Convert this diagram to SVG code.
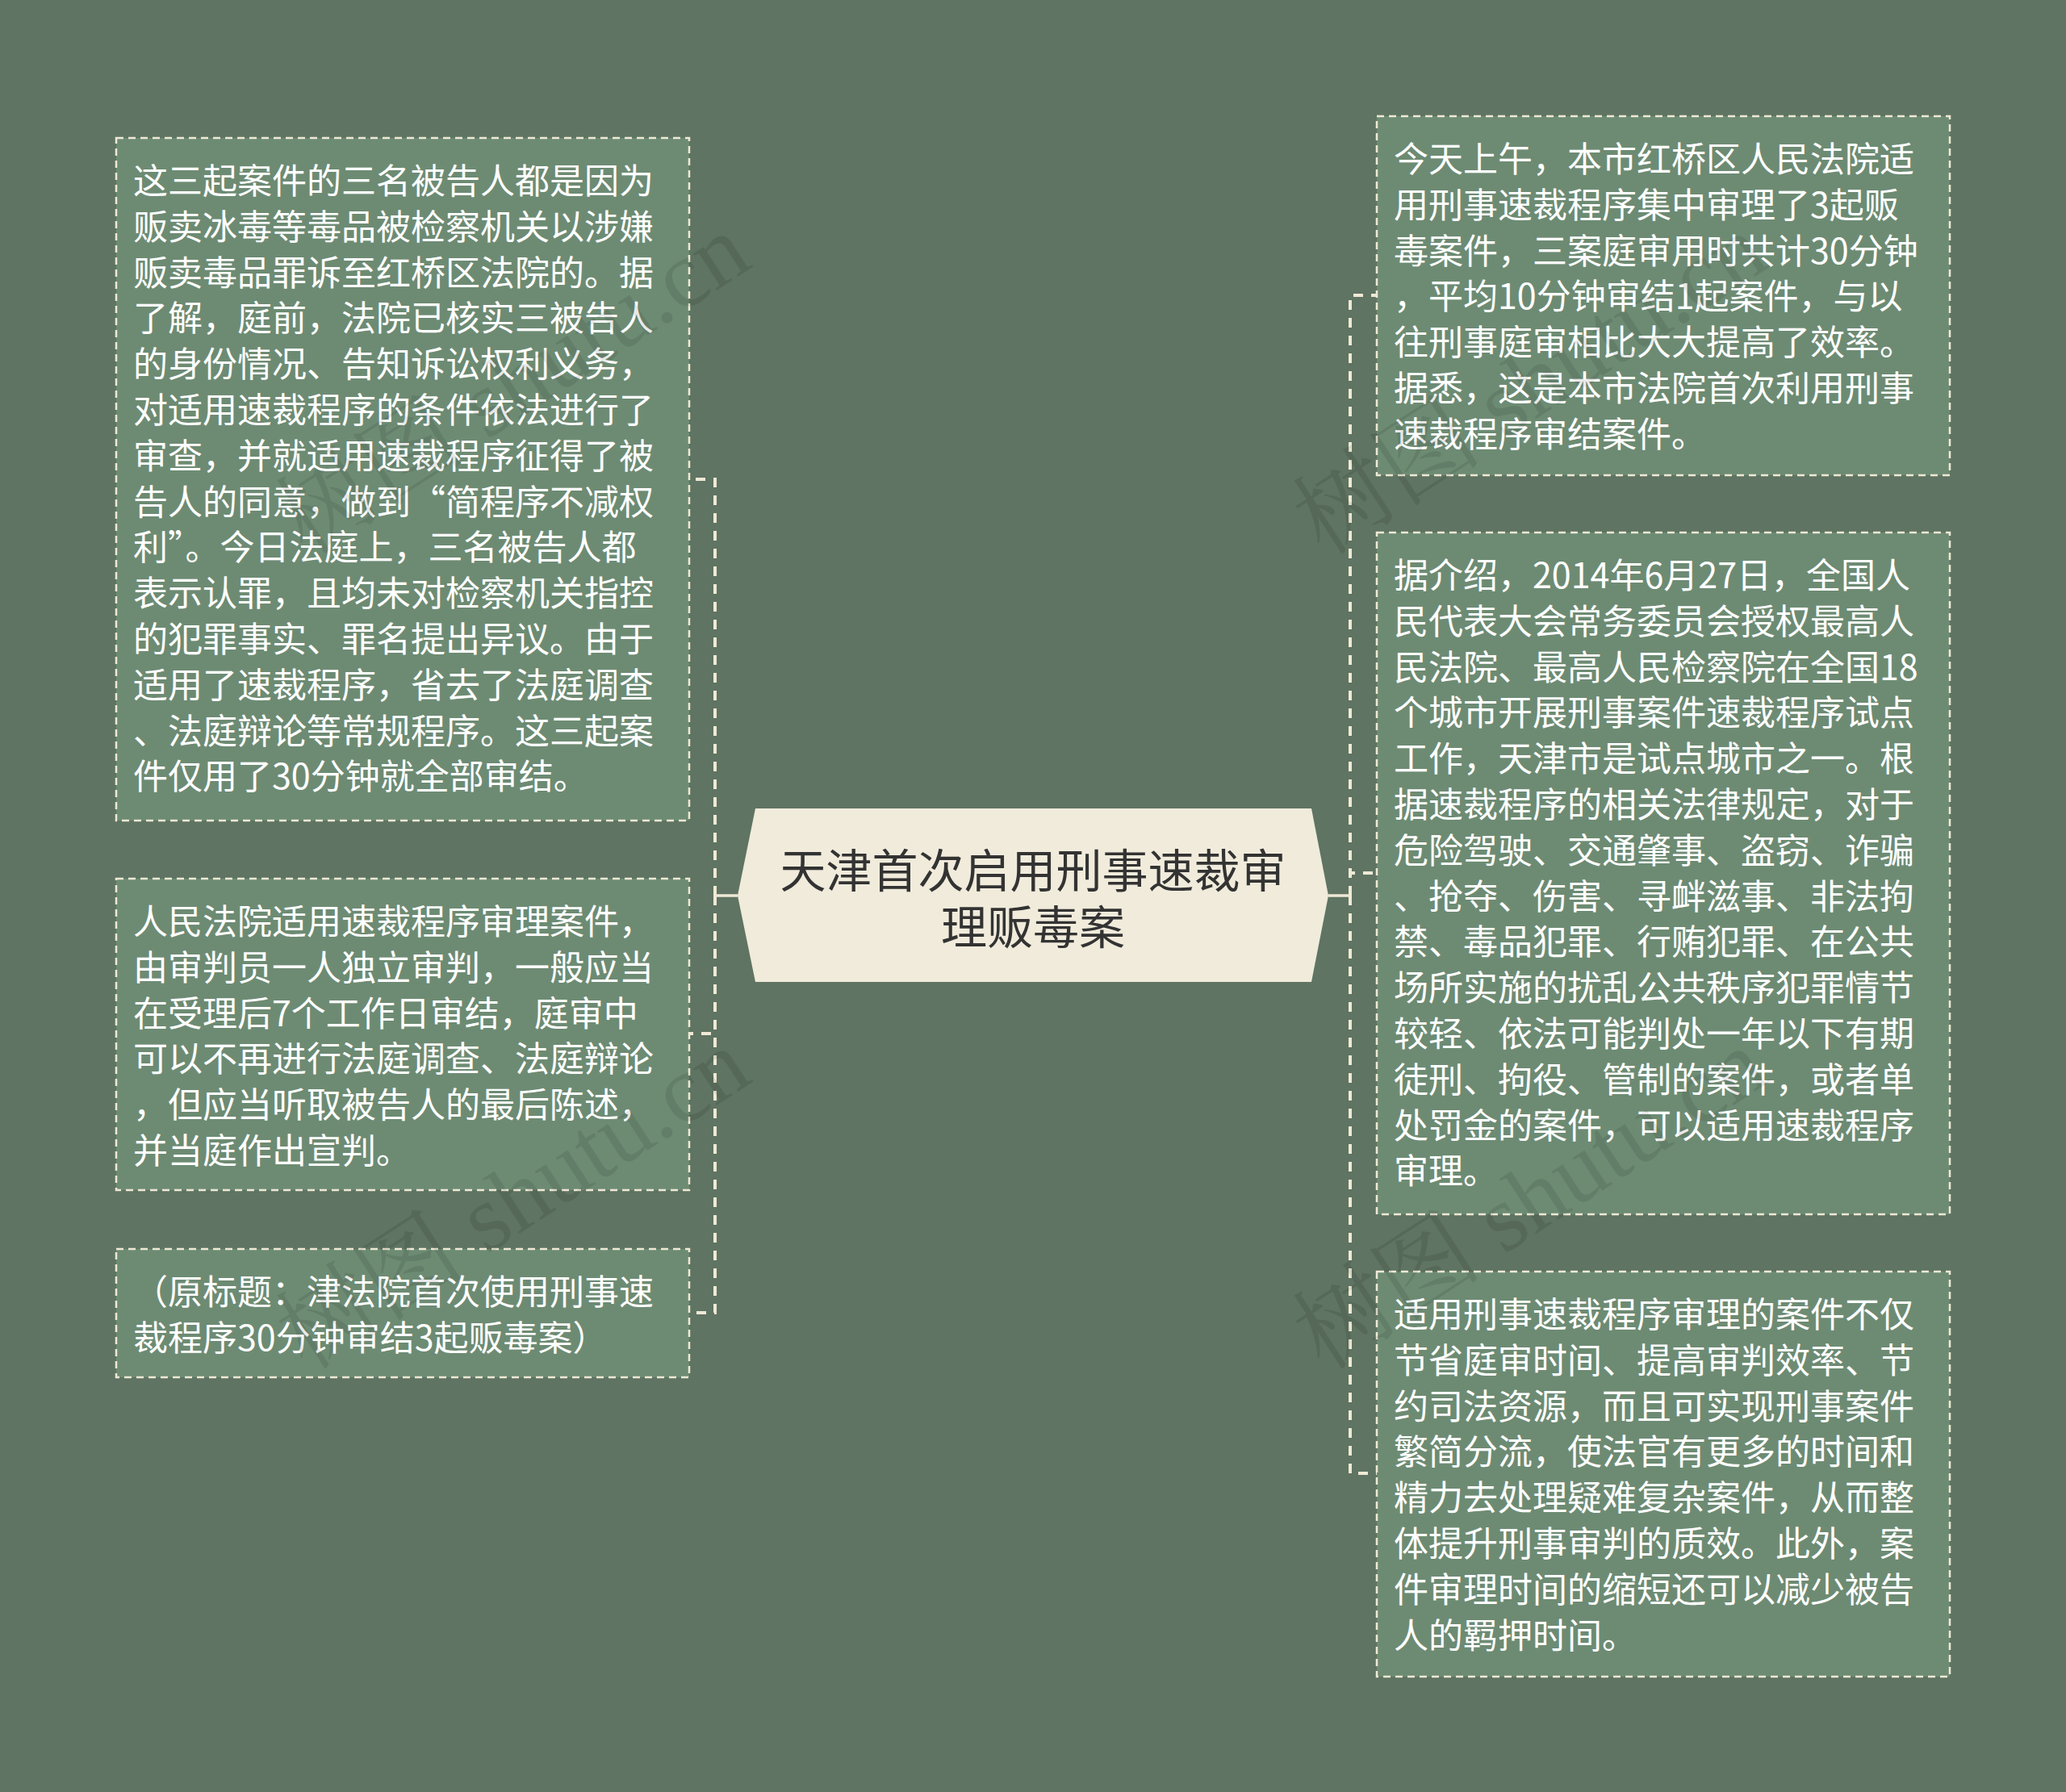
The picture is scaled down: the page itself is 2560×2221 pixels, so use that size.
<svg xmlns="http://www.w3.org/2000/svg" width="2560" height="2221" viewBox="0 0 2560 2221">
<style>
.bg{fill:#5f7462}
.box{fill:#6d8b73;stroke:#efe9d5;stroke-width:2.5;stroke-dasharray:9 6}
.t{font-family:"Noto Sans CJK SC","Noto Sans",sans-serif;font-size:43px;fill:#ffffff}
.title{font-family:"Noto Sans CJK SC","Noto Sans",sans-serif;font-size:57px;fill:#333333;text-anchor:middle}
.c{fill:none;stroke:#efe9d5;stroke-width:4;stroke-dasharray:12 10}
.cs{fill:none;stroke:#efe9d5;stroke-width:3.5}
.wm{font-family:"Liberation Serif","Noto Serif CJK SC","Noto Sans CJK SC",serif;font-size:118px;fill:#000000;fill-opacity:0.09}
</style>
<rect class="bg" x="0" y="0" width="2560" height="2221"/>
<g id="connectors">
<path class="c" d="M886,1110 V594 H854"/>
<path class="c" d="M886,1110 V1281 H854"/>
<path class="c" d="M886,1110 V1627 H854"/>
<path class="cs" d="M914,1110 H886"/>
<path class="c" d="M1673,1110 V366 H1706"/>
<path class="c" d="M1673,1110 V1082 H1706"/>
<path class="c" d="M1673,1110 V1826 H1706"/>
<path class="cs" d="M1646,1110 H1673"/>
</g>
<g id="center">
<polygon points="936,1002 1625,1002 1646,1110 1625,1217 936,1217 914,1110" fill="#f0ebdb"/>
<text class="title"><tspan x="1280" y="1100">天津首次启用刑事速裁审</tspan><tspan x="1280" y="1170">理贩毒案</tspan></text>
</g>
<g id="node-l1">
<rect class="box" x="144" y="171" width="710" height="846"/>
<text class="t">
<tspan x="165" y="240">这三起案件的三名被告人都是因为</tspan>
<tspan x="165" y="296.8">贩卖冰毒等毒品被检察机关以涉嫌</tspan>
<tspan x="165" y="353.6">贩卖毒品罪诉至红桥区法院的。据</tspan>
<tspan x="165" y="410.4">了解，庭前，法院已核实三被告人</tspan>
<tspan x="165" y="467.2">的身份情况、告知诉讼权利义务，</tspan>
<tspan x="165" y="524">对适用速裁程序的条件依法进行了</tspan>
<tspan x="165" y="580.8">审查，并就适用速裁程序征得了被</tspan>
<tspan x="165" y="637.6">告人的同意，做到“简程序不减权</tspan>
<tspan x="165" y="694.4">利”。今日法庭上，三名被告人都</tspan>
<tspan x="165" y="751.2">表示认罪，且均未对检察机关指控</tspan>
<tspan x="165" y="808">的犯罪事实、罪名提出异议。由于</tspan>
<tspan x="165" y="864.8">适用了速裁程序，省去了法庭调查</tspan>
<tspan x="165" y="921.6">、法庭辩论等常规程序。这三起案</tspan>
<tspan x="165" y="978.4">件仅用了30分钟就全部审结。</tspan>
</text>
</g>
<g id="node-l2">
<rect class="box" x="144" y="1089" width="710" height="386"/>
<text class="t">
<tspan x="165" y="1158">人民法院适用速裁程序审理案件，</tspan>
<tspan x="165" y="1214.8">由审判员一人独立审判，一般应当</tspan>
<tspan x="165" y="1271.6">在受理后7个工作日审结，庭审中</tspan>
<tspan x="165" y="1328.4">可以不再进行法庭调查、法庭辩论</tspan>
<tspan x="165" y="1385.2">，但应当听取被告人的最后陈述，</tspan>
<tspan x="165" y="1442">并当庭作出宣判。</tspan>
</text>
</g>
<g id="node-l3">
<rect class="box" x="144" y="1548" width="710" height="159"/>
<text class="t">
<tspan x="165" y="1617">（原标题：津法院首次使用刑事速</tspan>
<tspan x="165" y="1673.8">裁程序30分钟审结3起贩毒案）</tspan>
</text>
</g>
<g id="node-r1">
<rect class="box" x="1706" y="144" width="710" height="445"/>
<text class="t">
<tspan x="1727" y="213">今天上午，本市红桥区人民法院适</tspan>
<tspan x="1727" y="269.8">用刑事速裁程序集中审理了3起贩</tspan>
<tspan x="1727" y="326.6">毒案件，三案庭审用时共计30分钟</tspan>
<tspan x="1727" y="383.4">，平均10分钟审结1起案件，与以</tspan>
<tspan x="1727" y="440.2">往刑事庭审相比大大提高了效率。</tspan>
<tspan x="1727" y="497">据悉，这是本市法院首次利用刑事</tspan>
<tspan x="1727" y="553.8">速裁程序审结案件。</tspan>
</text>
</g>
<g id="node-r2">
<rect class="box" x="1706" y="660" width="710" height="845"/>
<text class="t">
<tspan x="1727" y="729">据介绍，2014年6月27日，全国人</tspan>
<tspan x="1727" y="785.8">民代表大会常务委员会授权最高人</tspan>
<tspan x="1727" y="842.6">民法院、最高人民检察院在全国18</tspan>
<tspan x="1727" y="899.4">个城市开展刑事案件速裁程序试点</tspan>
<tspan x="1727" y="956.2">工作，天津市是试点城市之一。根</tspan>
<tspan x="1727" y="1013">据速裁程序的相关法律规定，对于</tspan>
<tspan x="1727" y="1069.8">危险驾驶、交通肇事、盗窃、诈骗</tspan>
<tspan x="1727" y="1126.6">、抢夺、伤害、寻衅滋事、非法拘</tspan>
<tspan x="1727" y="1183.4">禁、毒品犯罪、行贿犯罪、在公共</tspan>
<tspan x="1727" y="1240.2">场所实施的扰乱公共秩序犯罪情节</tspan>
<tspan x="1727" y="1297">较轻、依法可能判处一年以下有期</tspan>
<tspan x="1727" y="1353.8">徒刑、拘役、管制的案件，或者单</tspan>
<tspan x="1727" y="1410.6">处罚金的案件，可以适用速裁程序</tspan>
<tspan x="1727" y="1467.4">审理。</tspan>
</text>
</g>
<g id="node-r3">
<rect class="box" x="1706" y="1576" width="710" height="502"/>
<text class="t">
<tspan x="1727" y="1645">适用刑事速裁程序审理的案件不仅</tspan>
<tspan x="1727" y="1701.8">节省庭审时间、提高审判效率、节</tspan>
<tspan x="1727" y="1758.6">约司法资源，而且可实现刑事案件</tspan>
<tspan x="1727" y="1815.4">繁简分流，使法官有更多的时间和</tspan>
<tspan x="1727" y="1872.2">精力去处理疑难复杂案件，从而整</tspan>
<tspan x="1727" y="1929">体提升刑事审判的质效。此外，案</tspan>
<tspan x="1727" y="1985.8">件审理时间的缩短还可以减少被告</tspan>
<tspan x="1727" y="2042.6">人的羁押时间。</tspan>
</text>
</g>
<g id="watermarks">
<text class="wm" transform="translate(380,690) rotate(-33)">树图 shutu.cn</text>
<text class="wm" transform="translate(380,1700) rotate(-33)">树图 shutu.cn</text>
<text class="wm" transform="translate(1640,690) rotate(-33)">树图 shutu.cn</text>
<text class="wm" transform="translate(1640,1700) rotate(-33)">树图 shutu.cn</text>
</g>
</svg>
